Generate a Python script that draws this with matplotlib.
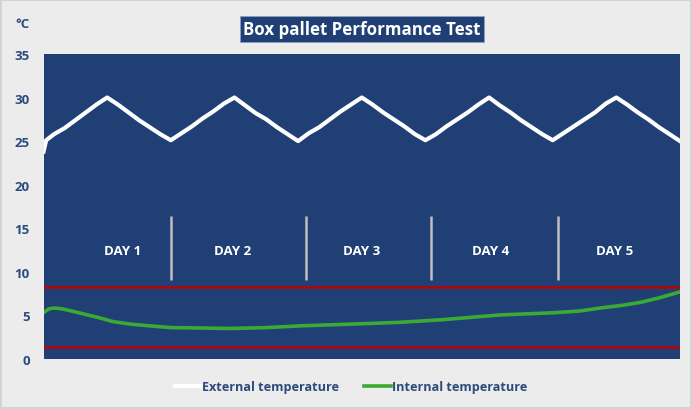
import matplotlib
matplotlib.use("Agg")
import matplotlib.pyplot as plt
from matplotlib.patches import Rectangle

# ---- data ----
ext_hours = [0, 0.5, 2, 4, 6, 8, 10, 12, 14, 16, 18, 20, 22,
             24, 26, 28, 30, 32, 34, 36, 38, 40, 42, 44, 46,
             48, 50, 52, 54, 56, 58, 60, 62, 64, 66, 68, 70,
             72, 74, 76, 78, 80, 82, 84, 86, 88, 90, 92, 94,
             96, 98, 100, 102, 104, 106, 108, 110, 112, 114, 116, 118, 120]
ext_temp = [23.8, 25.1, 25.8, 26.5, 27.4, 28.3, 29.2, 30.0, 29.2, 28.3, 27.4, 26.6, 25.8,
            25.1, 25.9, 26.7, 27.6, 28.4, 29.3, 30.0, 29.1, 28.2, 27.5, 26.6, 25.8,
            25.0, 25.9, 26.6, 27.5, 28.4, 29.2, 30.0, 29.2, 28.3, 27.5, 26.7, 25.8,
            25.1, 25.8, 26.7, 27.5, 28.3, 29.2, 30.0, 29.1, 28.3, 27.4, 26.6, 25.8,
            25.1, 25.9, 26.7, 27.5, 28.3, 29.3, 30.0, 29.2, 28.3, 27.5, 26.6, 25.8, 25.0]

int_hours = [0, 1.0, 2, 3.5, 5, 7, 9, 10.7, 13, 16.4, 20, 24, 30, 35, 42, 48.4, 58, 67,
             75, 86, 96, 101, 105, 109, 112.6, 116, 120]
int_temp = [5.3, 5.75, 5.85, 5.75, 5.55, 5.25, 4.95, 4.7, 4.3, 4.0, 3.8, 3.6, 3.55, 3.5,
            3.6, 3.8, 4.0, 4.2, 4.5, 5.05, 5.3, 5.5, 5.85, 6.15, 6.5, 7.0, 7.7]

upper_limit = 8.3
lower_limit = 1.4

separators = [24, 49.5, 73, 97]
day_labels = ["DAY 1", "DAY 2", "DAY 3", "DAY 4", "DAY 5"]
day_label_x = [14.9, 35.6, 59.9, 84.2, 107.7]
day_label_y = 12.4
sep_ymin, sep_ymax = 9.1, 16.4

yticks = [0, 5, 10, 15, 20, 25, 30, 35]

# ---- style ----
BG = "#ececec"
NAVY = "#1f3f75"
TXT = "#2c4a7c"
plt.rcParams['font.family'] = ['Open Sans', 'DejaVu Sans']

fig = plt.figure(figsize=(6.92, 4.10), dpi=100, facecolor=BG)
fig.patches.append(Rectangle((0.002, 0.002), 0.996, 0.996, transform=fig.transFigure,
                             fill=False, edgecolor="#d0d0d0", linewidth=1.2))
ax = fig.add_axes([0.0629, 0.122, 0.9198, 0.744])
ax.set_facecolor(NAVY)

ax.plot(ext_hours, ext_temp, color="white", lw=3.0, label="External temperature", zorder=4)
ax.plot(int_hours, int_temp, color="#3aaa35", lw=2.6, label="Internal temperature", zorder=4)
ax.axhline(upper_limit, color="#c00000", lw=1.8, zorder=3)
ax.axhline(lower_limit, color="#c00000", lw=1.8, zorder=3)
ax.vlines(separators, sep_ymin, sep_ymax, color="#bfbfbf", lw=1.8, zorder=3)
for lab, x in zip(day_labels, day_label_x):
    ax.text(x, day_label_y, lab, color="white", fontsize=9.5, fontweight="bold",
            ha="center", va="center")

ax.set_xlim(0, 120)
ax.set_ylim(0, 35)
ax.set_xticks([])
ax.set_yticks(yticks)
ax.tick_params(axis="y", length=0, pad=10, labelsize=9.5, labelcolor=TXT)
for t in ax.get_yticklabels():
    t.set_fontweight("bold")
for s in ax.spines.values():
    s.set_visible(False)

fig.text(22 / 692, 1 - 25 / 410, "°C", color=TXT, fontsize=9.5, fontweight="bold",
         ha="center", va="center")
fig.text(362 / 692, 1 - 30 / 410, "Box pallet Performance Test", color="white",
         fontsize=12.2, fontweight="bold", ha="center", va="center",
         bbox=dict(boxstyle="square,pad=0.22", facecolor=NAVY, edgecolor="#8da0c0", lw=0.6))

leg = fig.legend(loc="center", bbox_to_anchor=(0.507, 1 - 388 / 410), ncol=2, frameon=False,
                 handlelength=2.1, handletextpad=0.05, columnspacing=2.0, fontsize=9.1)
for t in leg.get_texts():
    t.set_color(TXT)
    t.set_fontweight("bold")

fig.savefig("out.png", dpi=100, facecolor=BG)
